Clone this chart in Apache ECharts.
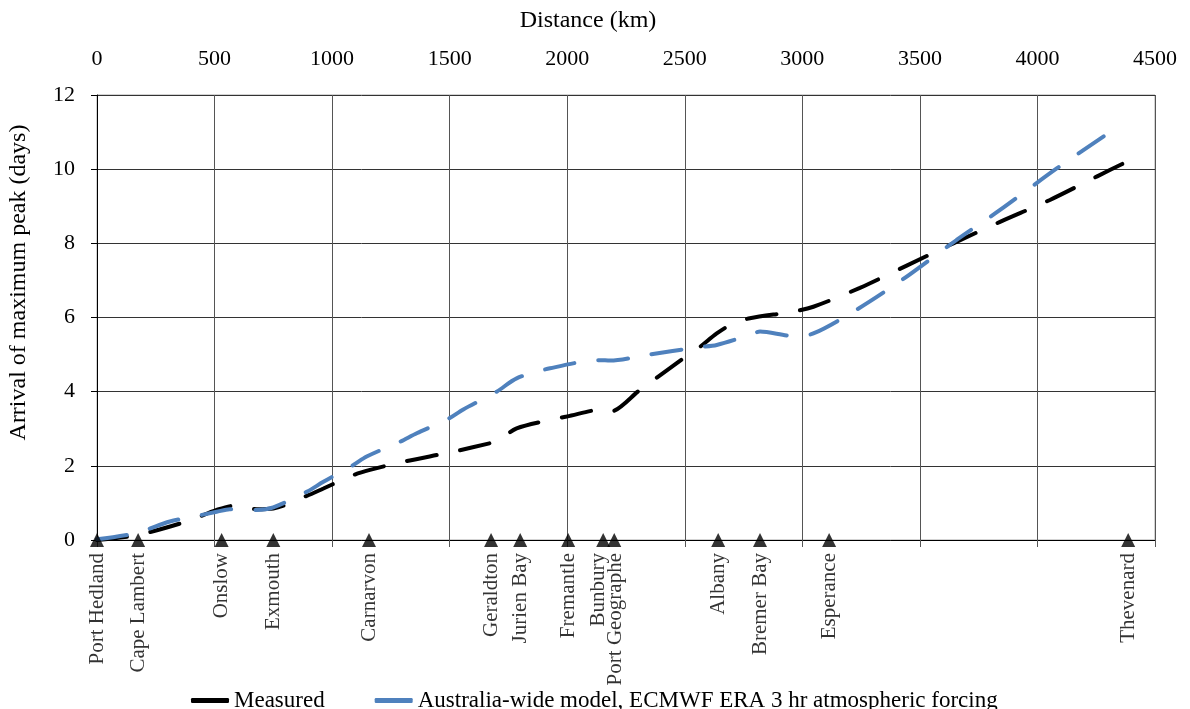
<!DOCTYPE html>
<html>
<head>
<meta charset="utf-8">
<script src="https://cdn.jsdelivr.net/npm/echarts@6/dist/echarts.min.js"></script>
<style>
html,body{margin:0;padding:0;background:#fff;}
#chart{width:1190px;height:709px;}
</style>
</head>
<body>
<div id="chart"></div>
<script>
// ---- data ----
var stationNames = ['Port Hedland','Cape Lambert','Onslow','Exmouth','Carnarvon','Geraldton','Jurien Bay','Fremantle','Bunbury','Port Geographe','Albany','Bremer Bay','Esperance','Thevenard'];
var stationKm = [0, 175, 530, 750, 1157, 1676, 1800, 2004, 2153, 2200, 2642, 2820, 3114, 4386];

var measuredKm   = [0, 169, 382, 509, 580, 679, 750, 892, 963, 1090, 1161, 1303, 1515, 1672, 1700, 1785, 1927, 1998, 2153, 2182, 2310, 2494, 2565, 2636, 2706, 2777, 2962, 3047, 3245, 3444, 3642, 3841, 4053, 4252, 4386];
var measuredDays = [0, 0.13, 0.5, 0.81, 0.92, 0.83, 0.85, 1.19, 1.39, 1.75, 1.89, 2.11, 2.38, 2.61, 2.65, 3.01, 3.24, 3.33, 3.52, 3.46, 4.05, 4.9, 5.21, 5.57, 5.84, 5.98, 6.16, 6.29, 6.8, 7.4, 8.0, 8.58, 9.17, 9.8, 10.22];

var modelKm   = [0, 161, 310, 395, 509, 565, 679, 750, 892, 963, 1090, 1147, 1289, 1360, 1487, 1558, 1700, 1785, 1927, 2140, 2182, 2338, 2558, 2636, 2777, 2820, 2962, 3047, 3228, 3423, 3656, 3841, 4082, 4323];
var modelDays = [0.02, 0.18, 0.5, 0.61, 0.76, 0.83, 0.81, 0.88, 1.3, 1.57, 2.02, 2.25, 2.65, 2.88, 3.24, 3.52, 4.0, 4.36, 4.63, 4.85, 4.84, 4.99, 5.2, 5.26, 5.53, 5.62, 5.5, 5.57, 6.2, 7.01, 8.09, 8.9, 10.02, 11.06];

var xTicks = {min: 0, max: 4500, interval: 500};
var yTicks = {min: 0, max: 12, interval: 2};

var seriesNames = ['Measured', 'Australia-wide model, ECMWF ERA 3 hr atmospheric forcing'];

// ---- build ----
function pairs(xs, ys){ return xs.map(function(x,i){ return [x, ys[i]]; }); }
var stationData = stationNames.map(function(n,i){
  var d = {name: n, value: [stationKm[i], 0]};
  if (n === 'Bunbury') d.label = {offset: [0, -5]};
  if (n === 'Port Geographe') d.label = {offset: [0, 1]};
  return d;
});

var FONT = 'Liberation Serif';
var chart = echarts.init(document.getElementById('chart'));
chart.setOption({
  animation: false,
  backgroundColor: '#fff',
  textStyle: {fontFamily: FONT, color: '#000'},
  grid: {left: 97, right: 35, top: 95, bottom: 169, show: true, borderColor: '#A6A6A6', borderWidth: 1,
         containLabel: false, outerBoundsMode: 'none'},
  legend: {
    data: seriesNames,
    left: 186, top: 684,
    itemWidth: 38, itemHeight: 5, itemGap: 50,
    icon: 'roundRect',
    textStyle: {fontFamily: FONT, fontSize: 23, color: '#000'},
    lineStyle: {type: 'solid', width: 5}
  },
  xAxis: [{
    type: 'value', position: 'top',
    min: xTicks.min, max: xTicks.max, interval: xTicks.interval,
    name: 'Distance (km)', nameLocation: 'middle', nameGap: 62,
    nameTextStyle: {fontFamily: FONT, fontSize: 24, color: '#000', padding: [0, 76, 0, 0]},
    axisLine: {show: true, lineStyle: {color: '#A6A6A6', width: 1}},
    axisTick: {show: false},
    axisLabel: {fontFamily: FONT, fontSize: 22, color: '#000', margin: 25, formatter: function(v){ return String(v); }},
    splitLine: {show: true, lineStyle: {color: '#555', width: 1}}
  },{
    type: 'value', position: 'bottom',
    min: xTicks.min, max: xTicks.max, interval: xTicks.interval,
    axisLine: {show: true, onZero: false, lineStyle: {color: '#000', width: 1}},
    axisTick: {show: true, inside: false, length: 7, lineStyle: {color: '#555'}},
    axisLabel: {show: false},
    splitLine: {show: false}
  }],
  yAxis: [{
    type: 'value',
    min: yTicks.min, max: yTicks.max, interval: yTicks.interval,
    name: 'Arrival of maximum peak (days)', nameLocation: 'middle', nameGap: 66,
    nameTextStyle: {fontFamily: FONT, fontSize: 24, color: '#000', padding: [0, 0, 0, 70]},
    axisLine: {show: true, lineStyle: {color: '#000', width: 1}},
    axisTick: {show: true, inside: false, length: 6, lineStyle: {color: '#000'}},
    axisLabel: {fontFamily: FONT, fontSize: 22, color: '#000', margin: 22},
    splitLine: {show: true, lineStyle: {color: '#333', width: 1}}
  }],
  series: [{
    name: seriesNames[0], type: 'line', xAxisIndex: 0,
    data: pairs(measuredKm, measuredDays),
    showSymbol: false, smooth: 0.3,
    itemStyle: {color: '#000'},
    lineStyle: {color: '#000', width: 4, type: [30, 24], cap: 'round'},
    z: 3
  },{
    name: seriesNames[1], type: 'line', xAxisIndex: 0,
    data: pairs(modelKm, modelDays),
    showSymbol: false, smooth: 0.3,
    itemStyle: {color: '#4F81BD'},
    lineStyle: {color: '#4F81BD', width: 4, type: [30, 24], cap: 'round'},
    z: 4
  },{
    name: 'stations', type: 'scatter', xAxisIndex: 0,
    data: stationData,
    symbol: 'triangle', symbolSize: [14, 14],
    itemStyle: {color: '#000'},
    label: {
      show: true, formatter: '{b}', position: 'bottom', distance: 6,
      rotate: 90, align: 'right', verticalAlign: 'middle',
      fontFamily: FONT, fontSize: 21, color: '#000'
    },
    silent: true, z: 5
  }]
});
</script>
</body>
</html>
